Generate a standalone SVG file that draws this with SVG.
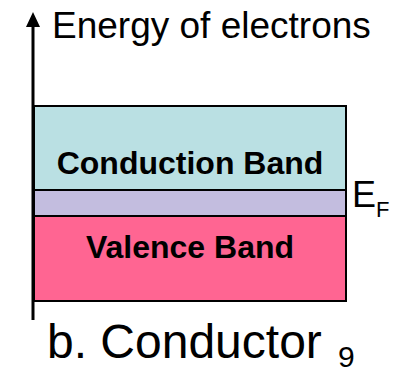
<svg xmlns="http://www.w3.org/2000/svg" width="401" height="375" viewBox="0 0 401 375">
<style>
.band{stroke:#000;stroke-width:2}
.lbl{font-family:"Liberation Sans",Arial,sans-serif;font-weight:bold;font-size:32px;text-anchor:middle;fill:#000}
.txt{font-family:"Liberation Sans",Arial,sans-serif;fill:#000}
</style>
<rect width="401" height="375" fill="#fff"/>
<g id="conduction">
<rect class="band" x="34" y="106" width="312" height="84" fill="#BAE0E3"/>
<text class="lbl" x="190" y="174">Conduction Band</text>
</g>
<g id="fermi">
<rect class="band" x="34" y="190" width="312" height="26" fill="#C3BDDF"/>
<text class="txt" x="352" y="207" font-size="36">E</text>
<text class="txt" x="376" y="217" font-size="22">F</text>
</g>
<g id="valence">
<rect class="band" x="34" y="216" width="312" height="85" fill="#FF6592"/>
<text class="lbl" x="190" y="258">Valence Band</text>
</g>
<g id="connectors">
<line x1="33" y1="320" x2="33" y2="25" stroke="#000" stroke-width="3"/>
<polygon points="33,12 26,27 40,27" fill="#000"/>
</g>
<g id="labels">
<text class="txt" x="47" y="358" font-size="48">b. Conductor</text>
<text class="txt" x="338" y="367" font-size="30">9</text>
</g>
<g id="title">
<text class="txt" x="52" y="38" font-size="37">Energy of electrons</text>
</g>
</svg>
